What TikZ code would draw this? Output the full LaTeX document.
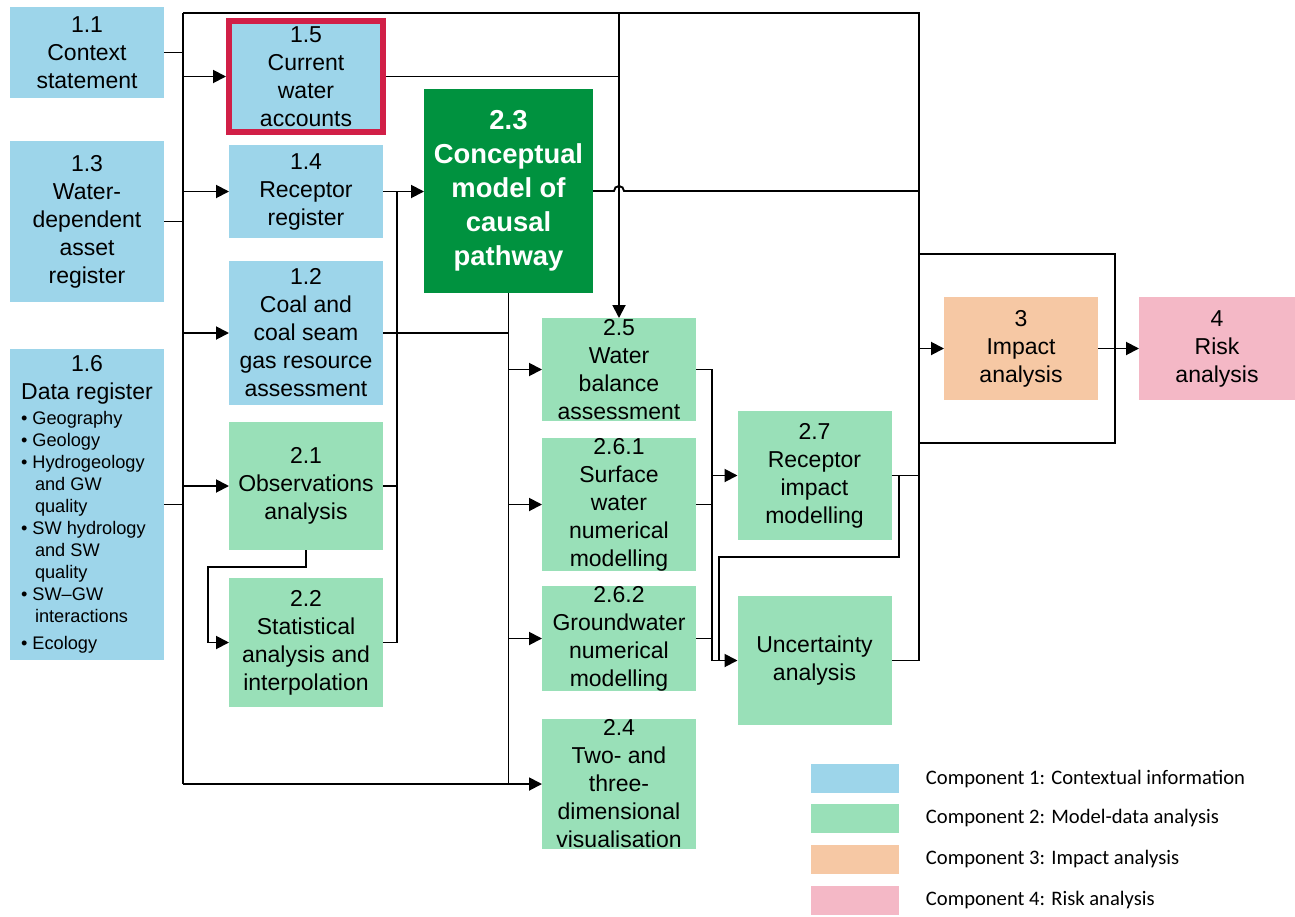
\documentclass[tikz,border=0pt]{standalone}
\usepackage{fontspec}
\setmainfont{Liberation Sans}
\newfontfamily\legendfont{Carlito}
\usetikzlibrary{arrows.meta}
\definecolor{cblue}{HTML}{9DD5EA}
\definecolor{cgreen}{HTML}{99E0B8}
\definecolor{cdark}{HTML}{00923F}
\definecolor{corange}{HTML}{F6C8A4}
\definecolor{cpink}{HTML}{F4B8C6}
\definecolor{cred}{HTML}{D11F47}

\begin{document}
\begin{tikzpicture}[x=0.5pt,y=-0.5pt,line width=0.95pt,>={Triangle[length=6.5pt,width=6.5pt]}]
\tikzstyle{cbox} = [rectangle, inner sep=0pt, outer sep=0pt, align=center, minimum width=77pt, font=\fontsize{11.5}{14}\selectfont]
\tikzstyle{one} = [cbox, fill=cblue]
\tikzstyle{two} = [cbox, fill=cgreen]
\tikzstyle{swatch} = [rectangle, inner sep=0pt, minimum width=44pt, minimum height=14.5pt]
\tikzstyle{legtext} = [anchor=west, inner sep=0pt, font=\legendfont\fontsize{10.3}{12}\selectfont]
\useasboundingbox (0,0) rectangle (1295,916);

% component 1
\node[one, minimum height=45.5pt] (ctx) at (87,52.5) {1.1\\Context\\statement};
\node[one, draw=cred, line width=3pt, outer sep=1.5pt, minimum height=55.5pt] (acct) at (306,76.5) {1.5\\Current\\water\\accounts};
\node[one, minimum height=80.5pt] (asset) at (87,221.5) {1.3\\Water-\\dependent\\asset\\register};
\node[one, minimum height=46.5pt] (recep) at (306,191.5) {1.4\\Receptor\\register};
\node[one, minimum height=72pt] (coal) at (306,333) {1.2\\Coal and\\coal seam\\gas resource\\assessment};
\node[one, minimum height=155.5pt] (data) at (87,504.5) {\parbox{66pt}{\centering 1.6\\Data register\par
  \vspace{1.5pt}\raggedright\fontsize{9.1}{11}\selectfont
  \textbullet\ Geography\par
  \textbullet\ Geology\par
  \textbullet\ Hydrogeology\par
  \hspace*{7pt}and GW\par
  \hspace*{7pt}quality\par
  \textbullet\ SW hydrology\par
  \hspace*{7pt}and SW\par
  \hspace*{7pt}quality\par
  \textbullet\ SW--GW\par
  \hspace*{7pt}interactions\par
  \vspace{2.5pt}\textbullet\ Ecology\par}};

% component 2
\node[two, minimum height=64pt] (obs) at (306,486) {2.1\\Observations\\analysis};
\node[two, minimum height=64.5pt] (stat) at (306,642.5) {2.2\\Statistical\\analysis and\\interpolation};
\node[cbox, fill=cdark, text=white, minimum width=84.5pt, minimum height=102pt, font=\bfseries\fontsize{13.7}{17}\selectfont] (concept) at (508.5,191) {2.3\\Conceptual\\model of\\causal\\pathway};
\node[two, minimum height=51.5pt] (wbal) at (619,369.5) {2.5\\Water\\balance\\assessment};
\node[two, minimum height=64.5pt] (swm) at (619,504.5) {2.6.1\\Surface\\water\\numerical\\modelling};
\node[two, minimum height=51.5pt] (gwm) at (619,638.5) {2.6.2\\Groundwater\\numerical\\modelling};
\node[two, minimum height=65pt] (vis) at (619,784) {2.4\\Two- and\\three-\\dimensional\\visualisation};
\node[two, minimum height=64.5pt] (rim) at (814.5,475.5) {2.7\\Receptor\\impact\\modelling};
\node[two, minimum height=64.5pt] (unc) at (814.5,660.5) {Uncertainty\\analysis};

% components 3 and 4
\node[cbox, fill=corange, minimum height=51.5pt] (impact) at (1021,348.5) {3\\Impact\\analysis};
\node[cbox, fill=cpink, minimum width=78pt, minimum height=51.5pt] (risk) at (1217,348.5) {4\\Risk\\analysis};

% bus corners
\coordinate (tl) at (183,13);
\coordinate (tr) at (919,13);
\coordinate (bl) at (183,784);
\coordinate (bb) at (397,0);
\coordinate (bf) at (712,0);
\coordinate (ol) at (208,567);
\coordinate (rl) at (899,557);
\coordinate (rl2) at (719,557);
\coordinate (kt) at (1115,254);
\coordinate (kb) at (1115,443);

% left bus
\draw (tl) -- (tr) -- (tr |- unc.east) -- (unc.east);
\draw (tl) -- (bl);
\draw[->] (bl) -- (vis.west);
\draw (ctx.east) -- (ctx.east -| tl);
\draw (asset.east) -- (asset.east -| tl);
\draw (data.east) -- (data.east -| tl);
\draw[->] (acct.west -| tl) -- (acct.west);
\draw[->] (recep.west -| tl) -- (recep.west);
\draw[->] (coal.west -| tl) -- (coal.west);
\draw[->] (obs.west -| tl) -- (obs.west);
\draw[->] (obs.south) |- (ol) |- (stat.west);

% into the conceptual model
\draw (recep.east -| bb) -- (stat.east -| bb);
\draw (obs.east) -- (obs.east -| bb);
\draw (stat.east) -- (stat.east -| bb);
\draw[->] (recep.east) -- (recep.east -| concept.west);
\draw (coal.east) -- (coal.east -| concept.south);
\draw (concept.south) -- (concept.south |- bl);
\draw[->] (wbal.west -| concept.south) -- (wbal.west);
\draw[->] (swm.west -| concept.south) -- (swm.west);
\draw[->] (gwm.west -| concept.south) -- (gwm.west);

% water accounts and conceptual model outputs
\draw[->] (tl -| wbal.north) -- (wbal.north);
\draw (acct.east) -- (acct.east -| wbal.north);
\draw (concept.east) -- ([xshift=-2.5pt]concept.east -| wbal.north) arc[start angle=180, end angle=0, radius=2.5pt] -- (concept.east -| tr);

% numerical models to receptor impact and uncertainty
\draw[->] (wbal.east) -| (bf |- unc.west) -- (unc.west);
\draw (swm.east) -- (swm.east -| bf);
\draw (gwm.east) -- (gwm.east -| bf);
\draw[->] (rim.west -| bf) -- (rim.west);
\draw (rim.east) -- (rim.east -| tr);
\draw (rim.east -| rl) -- (rl) -- (rl2) -- (rl2 |- unc.west);

% impact and risk
\draw (kt -| tr) -- (kt) -- (kb) -- (kb -| tr);
\draw[->] (impact.west -| tr) -- (impact.west);
\draw[->] (impact) -- (risk);

% legend
\node[swatch, fill=cblue] (sw1) at (855,778.5) {};
\node[swatch, fill=cgreen] (sw2) at (855,818) {};
\node[swatch, fill=corange] (sw3) at (855,859) {};
\node[swatch, fill=cpink] (sw4) at (855,900) {};
\node[legtext] (lt1) at (925,778.5) {Component 1: Contextual information};
\node[legtext] (lt2) at (925,818) {Component 2: Model-data analysis};
\node[legtext] (lt3) at (925,859) {Component 3: Impact analysis};
\node[legtext] (lt4) at (925,900) {Component 4: Risk analysis};
\end{tikzpicture}
\end{document}
